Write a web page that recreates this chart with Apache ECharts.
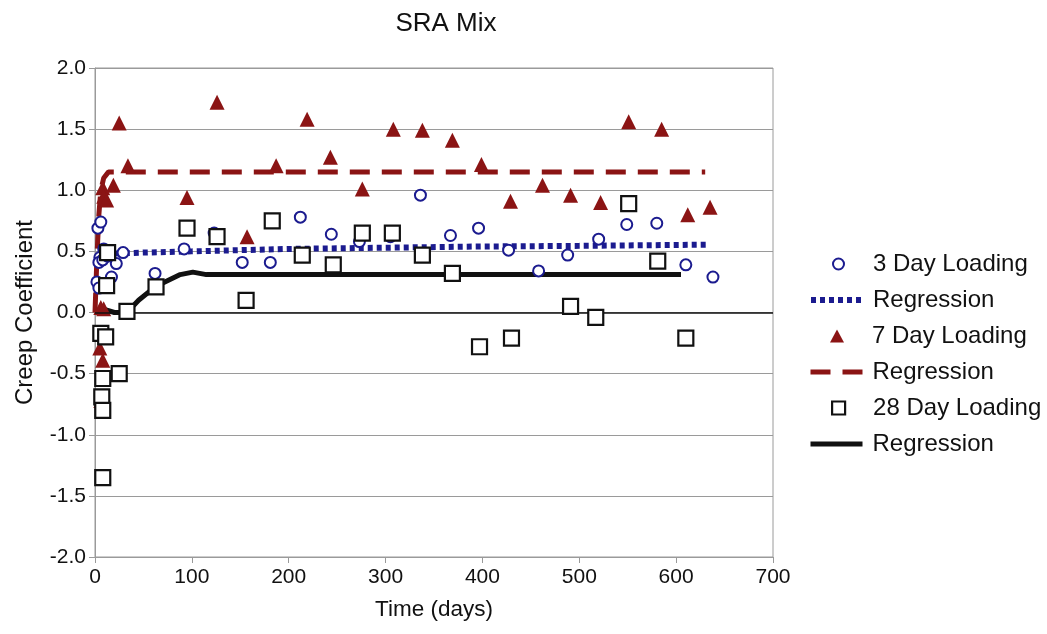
<!DOCTYPE html>
<html>
<head>
<meta charset="utf-8">
<script src="https://cdn.jsdelivr.net/npm/echarts@6/dist/echarts.min.js"></script>
<style>
  html, body { margin: 0; padding: 0; background: #fff; }
  #chart { width: 1047px; height: 634px; }
</style>
</head>
<body>
<div id="chart"></div>
<script>
// Creep coefficient vs. time for the SRA mix, three loading ages + fitted curves
const xTicks = [0, 100, 200, 300, 400, 500, 600, 700];
const yTicks = [-2.0, -1.5, -1.0, -0.5, 0.0, 0.5, 1.0, 1.5, 2.0];

// [time (days), creep coefficient]
const load3Day = [
  [2, 0.25], [4, 0.20], [3, 0.69], [6, 0.74], [9, 0.52], [5, 0.45], [4, 0.41],
  [8, 0.43], [13, 0.46], [17, 0.29], [22, 0.40], [29, 0.49],
  [62, 0.32], [92, 0.52], [123, 0.65], [152, 0.41], [181, 0.41], [212, 0.78],
  [244, 0.64], [273, 0.58], [305, 0.62], [336, 0.96], [367, 0.63], [396, 0.69],
  [427, 0.51], [458, 0.34], [488, 0.47], [520, 0.60], [549, 0.72], [580, 0.73],
  [610, 0.39], [638, 0.29]
];
const reg3Day = [
  [3, 0.47], [10, 0.48], [50, 0.49], [100, 0.50], [200, 0.52], [300, 0.53],
  [400, 0.54], [500, 0.545], [633, 0.555]
];

const load7Day = [
  [6, 0.04], [9, 0.03], [5, -0.29], [8, -0.39], [6, -0.72], [8, 1.02], [9, 0.95],
  [12, 0.92], [19, 1.04], [25, 1.55], [34, 1.20],
  [95, 0.94], [126, 1.72], [157, 0.62], [187, 1.20], [219, 1.58], [243, 1.27],
  [276, 1.01], [308, 1.50], [338, 1.49], [369, 1.41], [399, 1.21], [429, 0.91],
  [462, 1.04], [491, 0.96], [522, 0.90], [551, 1.56], [585, 1.50], [612, 0.80],
  [635, 0.86]
];
const reg7Day = [
  [0, 0.0], [2, 0.45], [4, 0.80], [6, 1.00], [9, 1.10], [14, 1.15], [630, 1.15]
];

const load28Day = [
  [6, -0.17], [11, -0.20], [8, -0.54], [25, -0.50], [7, -0.69], [8, -0.80],
  [8, -1.35], [12, 0.22], [13, 0.49], [33, 0.01], [63, 0.21], [95, 0.69],
  [126, 0.62], [156, 0.10], [183, 0.75], [214, 0.47], [246, 0.39], [276, 0.65],
  [307, 0.65], [338, 0.47], [369, 0.32], [397, -0.28], [430, -0.21], [491, 0.05],
  [517, -0.04], [551, 0.89], [581, 0.42], [610, -0.21]
];
const reg28Day = [
  [8, 0.03], [20, 0.0], [33, 0.0], [45, 0.10], [62, 0.21], [88, 0.31],
  [101, 0.33], [115, 0.31], [605, 0.31]
];

const BLUE = '#1b1b8f';
const RED = '#8b1414';
const BLACK = '#111111';
const GRID = '#9a9a9a';
const FONT = 'Liberation Sans';

const DOTTED = { color: BLUE, width: 6, type: [5, 4], cap: 'butt' };
const DASHED = { color: RED, width: 5, type: [20, 12], cap: 'butt' };
const SOLID = { color: BLACK, width: 5, type: 'solid' };

const CIRCLE_STYLE = { color: '#fff', borderColor: BLUE, borderWidth: 2, opacity: 1 };
const TRI_STYLE = { color: RED, borderWidth: 0, opacity: 1 };
const RECT_STYLE = { color: '#fff', borderColor: BLACK, borderWidth: 2.2, opacity: 1 };

// three fitted curves share the visible name "Regression"; zero-width spaces keep the legend entries apart
const REG1 = 'Regression', REG2 = 'Regression\u200b', REG3 = 'Regression\u200b\u200b';

// legend: one row per entry so marker icons keep their own size
const LEGEND_TOP = 250, LEGEND_STEP = 36, TEXT_X = 873, ICON_CX = 837, LINE_X = 808, LINE_W = 52;
function legendRow(i, item, iconW, iconH, isLine) {
  const left = isLine ? LINE_X : Math.round(ICON_CX - iconW / 2);
  const textPad = TEXT_X - (left + iconW + 5) - (isLine ? 3 : 1);
  return {
    orient: 'vertical',
    left: left,
    top: LEGEND_TOP + LEGEND_STEP * i,
    padding: 0,
    itemWidth: iconW,
    itemHeight: iconH,
    symbolKeepAspect: true,
    selectedMode: false,
    data: [item],
    formatter: name => name.replace(/\u200b/g, ''),
    textStyle: { fontFamily: FONT, fontSize: 24, color: '#111', lineHeight: 28, padding: [0, 0, 0, textPad] }
  };
}

const chart = echarts.init(document.getElementById('chart'), null, { renderer: 'canvas' });

chart.setOption({
  animation: false,
  backgroundColor: '#fff',
  title: {
    text: 'SRA Mix',
    left: 441,
    textAlign: 'center',
    top: 6,
    textStyle: { fontFamily: FONT, fontSize: 26, fontWeight: 'normal', color: '#111' }
  },
  grid: {
    left: 95, top: 68, width: 678, height: 489,
    show: true, borderColor: GRID, borderWidth: 1, backgroundColor: 'transparent'
  },
  legend: [
    legendRow(0, { name: '3 Day Loading', icon: 'circle', itemStyle: CIRCLE_STYLE }, 11, 11, false),
    legendRow(1, { name: REG1, itemStyle: { opacity: 0 }, lineStyle: DOTTED }, LINE_W, 12, true),
    legendRow(2, { name: '7 Day Loading', icon: 'triangle', itemStyle: TRI_STYLE }, 14, 13, false),
    legendRow(3, { name: REG2, itemStyle: { opacity: 0 }, lineStyle: DASHED }, LINE_W, 12, true),
    legendRow(4, { name: '28 Day Loading', icon: 'rect', itemStyle: RECT_STYLE }, 13, 13, false),
    legendRow(5, { name: REG3, itemStyle: { opacity: 0 }, lineStyle: SOLID }, LINE_W, 12, true)
  ],
  xAxis: {
    type: 'value',
    min: xTicks[0], max: xTicks[xTicks.length - 1], interval: 100,
    name: 'Time (days)',
    nameLocation: 'middle',
    nameGap: 41,
    nameTextStyle: { fontFamily: FONT, fontSize: 22.5, color: '#111' },
    axisLine: { show: true, onZero: false, lineStyle: { color: GRID, width: 1 } },
    axisTick: { show: true, length: 6, lineStyle: { color: GRID } },
    axisLabel: { fontFamily: FONT, fontSize: 21, color: '#111', margin: 10 },
    splitLine: { show: false }
  },
  yAxis: {
    type: 'value',
    min: yTicks[0], max: yTicks[yTicks.length - 1], interval: 0.5,
    name: 'Creep Coefficient',
    nameLocation: 'middle',
    nameGap: 58,
    nameTextStyle: { fontFamily: FONT, fontSize: 24, color: '#111' },
    axisLine: { show: true, onZero: false, lineStyle: { color: GRID, width: 1 } },
    axisTick: { show: true, length: 6, lineStyle: { color: GRID } },
    axisLabel: {
      fontFamily: FONT, fontSize: 21, color: '#111', margin: 9,
      formatter: v => v.toFixed(1)
    },
    splitLine: { show: true, lineStyle: { color: GRID, width: 1 } }
  },
  series: [
    {
      name: REG1, type: 'line', data: reg3Day, symbol: 'none', z: 2,
      lineStyle: DOTTED, itemStyle: { color: BLUE },
      markLine: {
        silent: true, symbol: 'none', label: { show: false },
        lineStyle: { color: BLACK, width: 1.5, type: 'solid' },
        data: [{ yAxis: 0 }]
      }
    },
    {
      name: REG2, type: 'line', data: reg7Day, symbol: 'none', z: 2,
      lineStyle: DASHED, itemStyle: { color: RED }
    },
    {
      name: REG3, type: 'line', data: reg28Day, symbol: 'none', z: 2,
      lineStyle: SOLID, itemStyle: { color: BLACK }
    },
    {
      name: '3 Day Loading', type: 'scatter', data: load3Day, z: 3,
      symbol: 'circle', symbolSize: 11, itemStyle: CIRCLE_STYLE
    },
    {
      name: '7 Day Loading', type: 'scatter', data: load7Day, z: 4,
      symbol: 'triangle', symbolSize: 15, itemStyle: TRI_STYLE
    },
    {
      name: '28 Day Loading', type: 'scatter', data: load28Day, z: 5,
      symbol: 'rect', symbolSize: 15, itemStyle: RECT_STYLE
    }
  ]
});
</script>
</body>
</html>
